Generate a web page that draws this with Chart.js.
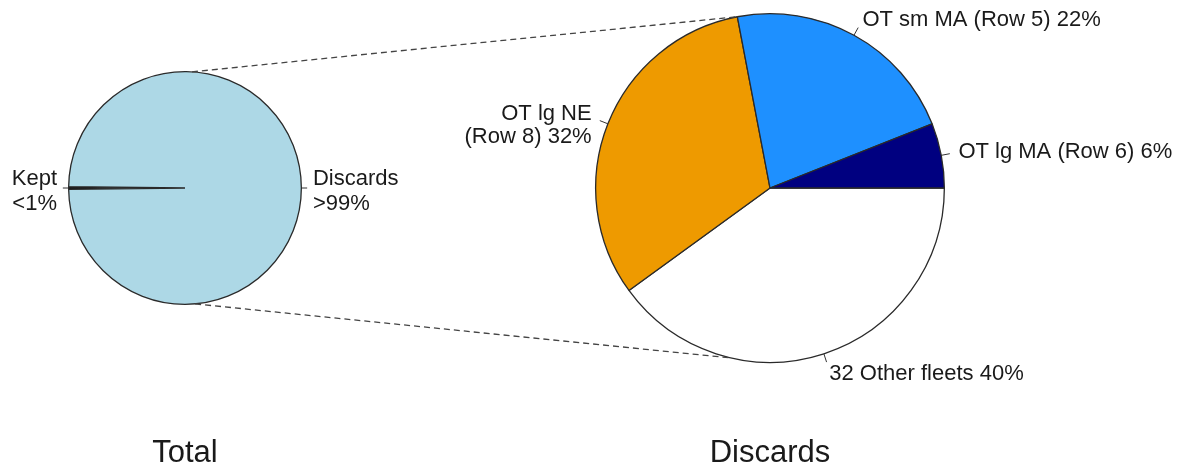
<!DOCTYPE html>
<html>
<head>
<meta charset="utf-8">
<script src="https://cdn.jsdelivr.net/npm/chart.js@4.4.1/dist/chart.umd.min.js"></script>
<style>
  body { margin: 0; background: #fff; }
  #wrap { position: relative; width: 1192px; height: 469px; }
  #wrap canvas { position: absolute; left: 0; top: 0; }
</style>
</head>
<body>
<div id="wrap">
  <canvas id="totalChart" width="1192" height="469"></canvas>
  <canvas id="discardChart" width="1192" height="469"></canvas>
</div>
<script>
// Left pie: total catch
const totalCats = ["Kept", "Discards"];
const totalValues = [0.35, 99.65];
const totalPctText = ["<1%", ">99%"];
const totalColors = ["#111111", "#ADD8E6"];

// Right pie: discards by fleet (clockwise from 3 o'clock)
const discardCats = ["32 Other fleets", "OT lg NE\n(Row 8)", "OT sm MA (Row 5)", "OT lg MA (Row 6)"];
const discardValues = [40, 32, 22, 6];
const discardColors = ["#FFFFFF", "#EE9A00", "#1E90FF", "#000080"];

const FONT = '"Liberation Sans", Arial, sans-serif';

// slice labels with short leader ticks, plus the title under each pie
const pieLabels = {
  id: "pieLabels",
  afterDraw(chart, args, opts) {
    const ctx = chart.ctx;
    const arcs = chart.getDatasetMeta(0).data;
    ctx.save();
    ctx.font = opts.size + "px " + FONT;
    ctx.fillStyle = "#1a1a1a";
    ctx.strokeStyle = "#333";
    ctx.lineWidth = 1;
    ctx.textBaseline = "middle";
    arcs.forEach((arc, i) => {
      const mid = (arc.startAngle + arc.endAngle) / 2;
      const r = arc.outerRadius;
      const c = Math.cos(mid), s = Math.sin(mid);
      ctx.beginPath();
      ctx.moveTo(arc.x + c * r, arc.y + s * r);
      ctx.lineTo(arc.x + c * r * 1.05, arc.y + s * r * 1.05);
      ctx.stroke();
      const lines = opts.texts[i].split("\n");
      const tx = arc.x + c * r * 1.1;
      let ty = arc.y + s * r * 1.1;
      if (lines.length > 1) ty += opts.multiShift;
      if (s > 0.5) ty += 4; // labels under the pie sit a bit lower
      ctx.textAlign = c > 0 ? "left" : "right";
      lines.forEach((ln, k) => {
        ctx.fillText(ln, tx, ty + (k - (lines.length - 1) / 2) * opts.lineHeight);
      });
    });
    const a = arcs[0];
    ctx.font = opts.titleSize + "px " + FONT;
    ctx.textAlign = "center";
    ctx.textBaseline = "alphabetic";
    ctx.fillText(opts.title, a.x, opts.titleY);
    ctx.restore();
  }
};

const leftRotation = 270 - (totalValues[0] / (totalValues[0] + totalValues[1])) * 180;

const totalChart = new Chart(document.getElementById("totalChart"), {
  type: "pie",
  data: {
    labels: totalCats,
    datasets: [{
      data: totalValues,
      backgroundColor: totalColors,
      borderColor: "#2a2a2a",
      borderWidth: 1.3,
    }],
  },
  options: {
    responsive: false,
    animation: false,
    events: [],
    rotation: leftRotation,
    layout: { padding: { left: 68, right: 890, top: 71, bottom: 164 } },
    plugins: {
      legend: { display: false },
      tooltip: { enabled: false },
      pieLabels: {
        texts: totalCats.map((c, i) => c + "\n" + totalPctText[i]),
        size: 22, lineHeight: 25, multiShift: 3,
        title: "Total", titleSize: 31, titleY: 462,
      },
    },
  },
  plugins: [pieLabels],
});

// dashed lines joining the two pies
const zoomLines = {
  id: "zoomLines",
  afterDraw(chart) {
    const L = totalChart.getDatasetMeta(0).data[0];
    const arcs = chart.getDatasetMeta(0).data;
    const R = arcs[0];
    const pt = (arc, ang) => [arc.x + Math.cos(ang) * arc.outerRadius, arc.y + Math.sin(ang) * arc.outerRadius];
    const deg = Math.PI / 180;
    const pairs = [
      [pt(L, -86.6 * deg), pt(R, arcs[2].startAngle)],
      [pt(L, 85 * deg), pt(R, 103 * deg)],
    ];
    const ctx = chart.ctx;
    ctx.save();
    ctx.strokeStyle = "#444";
    ctx.lineWidth = 1.3;
    ctx.setLineDash([6, 4]);
    pairs.forEach(([p, q]) => {
      ctx.beginPath();
      ctx.moveTo(p[0], p[1]);
      ctx.lineTo(q[0], q[1]);
      ctx.stroke();
    });
    ctx.restore();
  }
};

const discardChart = new Chart(document.getElementById("discardChart"), {
  type: "pie",
  data: {
    labels: discardCats,
    datasets: [{
      data: discardValues,
      backgroundColor: discardColors,
      borderColor: "#2a2a2a",
      borderWidth: 1.3,
    }],
  },
  options: {
    responsive: false,
    animation: false,
    events: [],
    rotation: 90,
    layout: { padding: { left: 595, right: 247, top: 13, bottom: 106 } },
    plugins: {
      legend: { display: false },
      tooltip: { enabled: false },
      pieLabels: {
        texts: discardCats.map((c, i) => c + " " + discardValues[i] + "%"),
        size: 22, lineHeight: 23, multiShift: 8,
        title: "Discards", titleSize: 31, titleY: 462,
      },
    },
  },
  plugins: [pieLabels, zoomLines],
});
</script>
</body>
</html>
